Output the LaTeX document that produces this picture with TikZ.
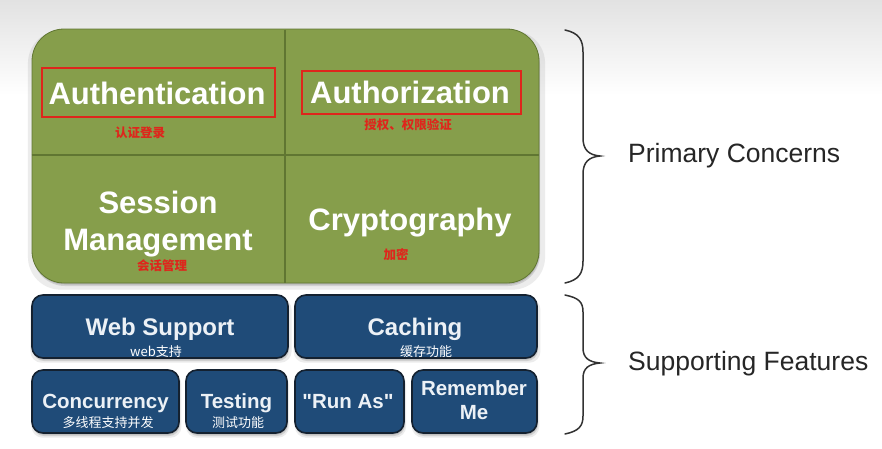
\documentclass[tikz,border=0pt]{standalone}
\usepackage{fontspec}
\setmainfont{Liberation Sans}
\newfontfamily\plainsans{Liberation Sans}
\newfontfamily\cjk{Noto Sans CJK SC}
\usetikzlibrary{shadows}
\definecolor{bggray}{RGB}{226,226,226}
\definecolor{grn}{RGB}{134,158,75}
\definecolor{grnline}{RGB}{96,118,50}
\definecolor{blu}{RGB}{31,75,120}
\definecolor{bluline}{RGB}{20,33,48}
\definecolor{redc}{RGB}{222,38,28}
\definecolor{txtw}{RGB}{236,241,246}
\definecolor{bracec}{RGB}{50,50,50}
\tikzset{
  softshadow/.style={
    drop shadow={shadow xshift=1pt, shadow yshift=-4pt, shadow scale=1.02, opacity=.15},
    drop shadow={shadow xshift=1pt, shadow yshift=-3pt, opacity=.25},
    drop shadow={shadow xshift=0.5pt, shadow yshift=-1.5pt, opacity=.3}},
  panel/.style={draw=grnline, line width=0.8pt, fill=grn, rounded corners=32pt, softshadow},
  divider/.style={draw=grnline, line width=1.4pt},
  featbox/.style={draw=bluline, line width=1.6pt, fill=blu, rounded corners=11pt, softshadow},
  redbox/.style={draw=redc, line width=1.8pt, inner sep=0pt},
  bigtxt/.style={text=white, font=\bfseries\fontsize{31}{37}\selectfont, inner sep=0pt, anchor=base},
  midtxt/.style={text=txtw, font=\bfseries\fontsize{24}{28}\selectfont, inner sep=0pt, anchor=base},
  smtxt/.style={text=txtw, font=\plainsans\bfseries\fontsize{20.5}{23}\selectfont, inner sep=0pt, anchor=base},
  redlab/.style={text=redc, font=\cjk\bfseries\fontsize{12.5}{14}\selectfont, inner sep=0pt},
  whlab/.style={text=white, font=\cjk\fontsize{13}{15}\selectfont, inner sep=0pt},
  sidetxt/.style={text=black!85, font=\fontsize{26.5}{30}\selectfont, inner sep=0pt, anchor=base west},
  bracestyle/.style={draw=bracec, line width=1.5pt, line cap=round}
}
\begin{document}
\begin{tikzpicture}[x=1pt,y=-1pt]
\useasboundingbox (0,0) rectangle (882,448);
\fill[white] (0,0) rectangle (882,448);
\shade[top color=bggray, bottom color=white] (0,0) rectangle (882,95);

% primary concerns panel
\node[panel, minimum width=507pt, minimum height=254pt] (core) at (285.5,156) {};
\draw[divider] (285,29.5) -- (285,282.5);
\draw[divider] (core.west |- 0,155) -- (core.east |- 0,155);

\node[redbox, minimum width=233pt, minimum height=49pt] (authnbox) at (158.5,92.5) {};
\node[redbox, minimum width=219pt, minimum height=43pt] (authzbox) at (411.5,92.5) {};

\node[bigtxt] (authn) at (157,104.5) {Authentication};
\node[bigtxt] (authz) at (410,103.5) {Authorization};
\node[bigtxt] (sess) at (158,213) {Session};
\node[bigtxt] (mgmt) at (158,250) {Management};
\node[bigtxt] (crypt) at (410,230) {Cryptography};

\node[redlab] (authnl) at (140,132.5) {认证登录};
\node[redlab] (authzl) at (408,125) {授权、权限验证};
\node[redlab] (sessl) at (162,265.5) {会话管理};
\node[redlab] (cryptl) at (396,255) {加密};

% supporting features
\node[featbox, minimum width=256pt, minimum height=63pt] (web) at (160,326.5) {};
\node[featbox, minimum width=242pt, minimum height=63pt] (cache) at (416,326.5) {};
\node[featbox, minimum width=147pt, minimum height=63pt] (conc) at (105.5,401.5) {};
\node[featbox, minimum width=101pt, minimum height=63pt] (test) at (236.5,401.5) {};
\node[featbox, minimum width=109pt, minimum height=63pt] (runas) at (349.5,401.5) {};
\node[featbox, minimum width=125pt, minimum height=63pt] (remem) at (474.5,401.5) {};

\node[midtxt] (webt) at (160,335) {Web Support};
\node[midtxt] (cachet) at (415,335) {Caching};
\node[whlab] (webl) at (156,352) {web支持};
\node[whlab] (cachel) at (426,352) {缓存功能};

\node[smtxt] (conct) at (105.5,408) {Concurrency};
\node[smtxt] (testt) at (236.5,408) {Testing};
\node[smtxt] (runast) at (348,408) {"Run As"};
\node[smtxt] (rememt) at (474,395) {Remember};
\node[smtxt] (memt) at (474,419) {Me};
\node[whlab] (concl) at (108,423) {多线程支持并发};
\node[whlab] (testl) at (238,423) {测试功能};

% braces
\draw[bracestyle] (565,30) .. controls (579,33) and (583,40) .. (583,52) -- (583,138)
  .. controls (583,150) and (589,155) .. (600,156)
  .. controls (589,157) and (583,162) .. (583,174) -- (583,261)
  .. controls (583,273) and (579,280) .. (565,283);
\draw[bracestyle] (565,295) .. controls (579,298) and (583,302) .. (583,312) -- (583,348)
  .. controls (583,358) and (589,362) .. (600,363)
  .. controls (589,364) and (583,368) .. (583,378) -- (583,416)
  .. controls (583,426) and (579,431) .. (565,434);

\node[sidetxt] (prim) at (628,162.5) {Primary Concerns};
\node[sidetxt] (supp) at (628,370.5) {Supporting Features};
\end{tikzpicture}
\end{document}
